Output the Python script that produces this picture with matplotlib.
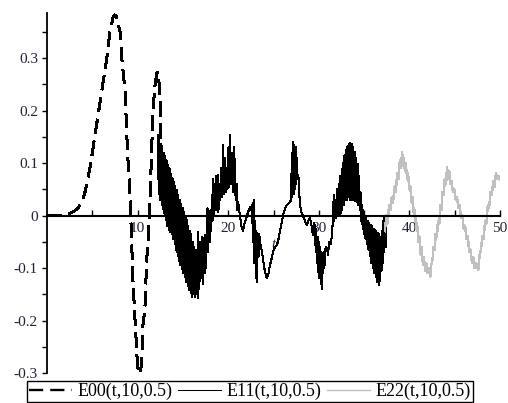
"""
Recreation of a Maple-style plot of three signals E00, E11, E22 over t in [0, 50].
"""

import matplotlib
matplotlib.use("Agg")
import matplotlib.pyplot as plt
from matplotlib.ticker import FixedLocator, FixedFormatter

# ---------------------------------------------------------------------------
# Data
# ---------------------------------------------------------------------------
e00_t = [0.0, 1.0, 1.8, 2.5, 3.0, 3.5, 3.9, 4.2, 4.5, 4.8, 5.0, 5.5, 6.07, 6.6,
         6.95, 7.3, 7.5, 7.7, 8.06, 8.24, 8.61, 8.80, 8.97, 9.16, 9.3, 9.5,
         9.7, 10.0, 10.15, 10.27, 10.45, 10.6, 10.8, 11.0, 11.15, 11.37,
         11.55, 11.7, 11.9, 12.1, 12.2, 12.35, 12.47, 12.55, 12.65, 12.85, 13.2]
e00_v = [0.0, 0.0, 0.001, 0.004, 0.008, 0.016, 0.027, 0.045, 0.07, 0.097, 0.119,
         0.176, 0.24, 0.30, 0.35, 0.378, 0.382, 0.378, 0.35, 0.302, 0.239, 0.157,
         0.093, 0.039, -0.03, -0.129, -0.193, -0.289, -0.298, -0.302, -0.28,
         -0.205, -0.18, -0.085, -0.052, 0.03, 0.125, 0.20, 0.245, 0.27, 0.273,
         0.258, 0.22, 0.163, 0.10, 0.04, 0.01]

e11_t = [
    # dense band 12.3 - 16
    12.25, 12.33, 12.41, 12.49, 12.57, 12.65, 12.73, 12.81, 12.89, 12.97,
    13.05, 13.13, 13.21, 13.29, 13.37, 13.45, 13.53, 13.61, 13.69, 13.77,
    13.85, 13.93, 14.01, 14.09, 14.17, 14.25, 14.33, 14.41, 14.49, 14.57,
    14.65, 14.73, 14.81, 14.89, 14.97, 15.05, 15.13, 15.21, 15.29, 15.37,
    15.45, 15.53, 15.61, 15.69, 15.77, 15.85, 15.93, 16.0,
    # spikes 16 - 21
    16.08, 16.16, 16.24, 16.32, 16.40, 16.48, 16.56, 16.62, 16.67, 16.76,
    16.84, 16.92, 17.0, 17.08, 17.16, 17.24, 17.32, 17.40, 17.48, 17.56,
    17.64, 17.72, 17.80, 17.88, 17.96, 18.04, 18.12, 18.20, 18.28, 18.36,
    18.44, 18.52, 18.60, 18.68, 18.76, 18.84, 18.92, 19.0, 19.1, 19.2,
    19.3, 19.43, 19.52, 19.62, 19.72, 19.82, 19.92, 20.02, 20.1, 20.2,
    20.3, 20.42, 20.52, 20.62, 20.72, 20.82, 20.92, 21.0, 21.1,
    # smoother part 21 - 29
    21.3, 21.45, 21.63, 21.8, 22.08, 22.3, 22.41, 22.55, 22.65, 22.72,
    22.8, 22.88, 22.96, 23.04, 23.12, 23.18, 23.26, 23.34, 23.42, 23.51,
    23.73, 24.06, 24.28, 24.45, 24.61, 24.75, 24.94, 25.15, 25.39, 25.55,
    25.72, 26.05, 26.3, 26.49, 26.82, 26.95, 27.02, 27.08, 27.15, 27.22,
    27.3, 27.38, 27.45, 27.52, 27.59, 27.66, 27.74, 27.92, 28.1, 28.26,
    28.5, 28.7, 28.85, 29.03, 29.2,
    # spikes 29 - 32
    29.36, 29.48, 29.58, 29.66, 29.72, 29.8, 29.86, 29.91, 29.98, 30.06,
    30.14, 30.22, 30.3, 30.35, 30.42, 30.5, 30.58, 30.66, 30.75, 30.91,
    31.02, 31.15, 31.3, 31.46, 31.57, 31.65, 31.72, 31.8, 31.9, 32.0, 32.1,
    # hump 32.2 - 34.7
    32.2, 32.28, 32.36, 32.44, 32.52, 32.6, 32.68, 32.76, 32.84, 32.92,
    33.0, 33.08, 33.16, 33.24, 33.32, 33.4, 33.48, 33.56, 33.64, 33.72,
    33.8, 33.88, 33.96, 34.04, 34.12, 34.2, 34.28, 34.36, 34.44, 34.52,
    34.6, 34.68,
    # band 34.7 - 37.5
    34.76, 34.84, 34.92, 35.0, 35.08, 35.16, 35.24, 35.32, 35.4, 35.48,
    35.56, 35.64, 35.72, 35.8, 35.88, 35.96, 36.04, 36.12, 36.2, 36.28,
    36.36, 36.44, 36.52, 36.6, 36.68, 36.76, 36.84, 36.92, 37.0, 37.09,
    37.15, 37.22, 37.3, 37.38, 37.45,
]
e11_v = [
    0.153, 0.040, 0.145, 0.030, 0.137, 0.020, 0.128, 0.012, 0.120, 0.003,
    0.113, -0.008, 0.105, -0.020, 0.097, -0.028, 0.090, -0.032, 0.080, -0.036,
    0.072, -0.045, 0.064, -0.055, 0.056, -0.065, 0.048, -0.077, 0.040, -0.087,
    0.030, -0.095, 0.022, -0.102, 0.015, -0.110, 0.006, -0.118, -0.002, -0.126,
    -0.008, -0.134, -0.020, -0.142, -0.030, -0.148, -0.035, -0.155,
    -0.05, -0.15, -0.06, -0.155, -0.065, -0.15, -0.07, -0.158, -0.032, -0.14,
    -0.05, -0.125, -0.06, -0.12, -0.04, -0.13, -0.045, -0.11, -0.037, -0.10,
    -0.03, 0.014, -0.07, 0.0, -0.05, 0.01, -0.03, 0.04, -0.01, 0.07,
    0.0, 0.06, 0.01, 0.075, 0.02, 0.077, 0.007, 0.06, 0.03, 0.09,
    0.035, 0.134, 0.04, 0.11, 0.045, 0.09, 0.05, 0.13, 0.055, 0.153,
    0.06, 0.12, 0.045, 0.13, 0.10, 0.03, 0.06, 0.01, 0.025,
    0.0, -0.02, -0.03, -0.015, 0.0, 0.012, 0.016, 0.01, 0.02, -0.05,
    0.03, -0.09, -0.01, -0.12, -0.03, -0.127, -0.04, -0.08, -0.035, -0.05,
    -0.07, -0.108, -0.12, -0.11, -0.094, -0.085, -0.07, -0.06, -0.056, -0.045,
    -0.03, 0.0, 0.015, 0.02, 0.026, 0.03, 0.12, 0.035, 0.14, 0.04,
    0.135, 0.05, 0.13, 0.06, 0.11, 0.07, 0.077, 0.02, 0.005, 0.0,
    -0.012, -0.018, -0.01, -0.005, -0.02,
    -0.037, -0.015, -0.02, -0.07, -0.025, -0.09, -0.04, -0.108, -0.05, -0.12,
    -0.06, -0.13, -0.07, -0.14, -0.08, -0.11, -0.07, -0.095, -0.06, -0.062,
    -0.075, -0.05, -0.055, -0.037, 0.0, 0.04, -0.01, 0.03, -0.005, 0.05, 0.0,
    0.06, 0.0, 0.075, 0.005, 0.088, 0.01, 0.10, 0.02, 0.115, 0.03,
    0.125, 0.03, 0.132, 0.035, 0.136, 0.03, 0.138, 0.03, 0.137, 0.03,
    0.13, 0.03, 0.122, 0.028, 0.11, 0.025, 0.098, 0.02, 0.075, 0.01,
    0.045, -0.01,
    0.02, -0.025, 0.01, -0.035, 0.0, -0.045, -0.005, -0.055, -0.01, -0.065,
    -0.015, -0.078, -0.018, -0.09, -0.02, -0.10, -0.025, -0.11, -0.028, -0.118,
    -0.03, -0.126, -0.033, -0.132, -0.035, -0.125, -0.04, -0.105, -0.03, -0.09,
    0.0, -0.07, -0.005, -0.06, 0.0,
]

e22_t = [37.3, 37.45, 37.6, 37.75, 37.9, 38.05, 38.2, 38.35, 38.5, 38.65,
         38.8, 38.95, 39.05, 39.2, 39.3, 39.4, 39.5, 39.6, 39.75, 39.85,
         40.0, 40.1, 40.25, 40.35, 40.5, 40.6, 40.75, 40.85, 41.0, 41.1,
         41.25, 41.35, 41.5, 41.6, 41.75, 41.85, 42.0, 42.15, 42.3, 42.4,
         42.55, 42.65, 42.8, 42.9, 43.05, 43.15, 43.3, 43.4, 43.55, 43.65,
         43.8, 43.9, 44.05, 44.15, 44.3, 44.4, 44.55, 44.65, 44.8, 44.95,
         45.1, 45.25, 45.4, 45.55, 45.7, 45.85, 46.0, 46.15, 46.3, 46.45,
         46.6, 46.75, 46.9, 47.05, 47.2, 47.35, 47.6, 47.75, 47.9, 48.05,
         48.2, 48.35, 48.5, 48.65, 48.8, 48.95, 49.1, 49.25, 49.4, 49.55,
         49.7, 49.85, 50.0]
e22_v = [-0.03, 0.0, -0.015, 0.02, 0.01, 0.035, 0.025, 0.055, 0.045, 0.08,
         0.07, 0.105, 0.09, 0.12, 0.095, 0.11, 0.085, 0.10, 0.07, 0.08,
         0.05, 0.055, 0.025, 0.035, 0.0, 0.01, -0.025, -0.015, -0.05, -0.04,
         -0.075, -0.06, -0.095, -0.08, -0.105, -0.09, -0.11, -0.10, -0.117, -0.095,
         -0.085, -0.06, -0.065, -0.035, -0.04, -0.01, -0.015, 0.02, 0.01, 0.045,
         0.04, 0.07, 0.06, 0.092, 0.07, 0.085, 0.06, 0.065, 0.045, 0.05,
         0.03, 0.035, 0.015, 0.02, -0.005, 0.0, -0.025, -0.02, -0.045, -0.04,
         -0.07, -0.065, -0.09, -0.08, -0.10, -0.09, -0.104, -0.075, -0.065, -0.04,
         -0.045, -0.01, -0.015, 0.02, 0.015, 0.045, 0.04, 0.065, 0.055, 0.08,
         0.07, 0.075, 0.068]

x_major = [10, 20, 30, 40, 50]
x_minor = [5, 15, 25, 35, 45]
y_major = [-0.3, -0.2, -0.1, 0.0, 0.1, 0.2, 0.3]
y_labels = ["-0.3", "-0.2", "-0.1", "0", "0.1", "0.2", "0.3"]
y_minor = [-0.25, -0.15, -0.05, 0.05, 0.15, 0.25, 0.35]
series_names = ["E00(t,10,0.5)", "E11(t,10,0.5)", "E22(t,10,0.5)"]

# ---------------------------------------------------------------------------
# Plot
# ---------------------------------------------------------------------------
plt.rcParams["font.family"] = ["Liberation Serif", "DejaVu Serif"]
plt.rcParams["axes.unicode_minus"] = False
LABEL_COLOR = "#20203a"

fig = plt.figure(figsize=(5.08, 4.03), dpi=100)
ax = fig.add_axes([47 / 508, 30 / 403, 453 / 508, 359.6 / 403])

# Maple output is not antialiased, so the dense oscillations look solid black
ax.plot(e00_t, e00_v, color="black", lw=1.7, ls=(0, (6, 3)),
        antialiased=False, label=series_names[0])
ax.plot(e11_t, e11_v, color="black", lw=0.75, antialiased=False,
        label=series_names[1])
ax.plot(e22_t, e22_v, color="#c0c0c0", lw=1.0, antialiased=False,
        label=series_names[2])

ax.set_xlim(0, 50)
ax.set_ylim(-0.3, 0.385)
ax.set_axisbelow(True)

ax.spines["top"].set_visible(False)
ax.spines["right"].set_visible(False)
ax.spines["bottom"].set_position(("data", 0))
ax.spines["bottom"].set_linewidth(1.5)
ax.spines["left"].set_linewidth(1.3)

ax.xaxis.set_major_locator(FixedLocator(x_major))
ax.xaxis.set_minor_locator(FixedLocator(x_minor))
ax.yaxis.set_major_locator(FixedLocator(y_major))
ax.yaxis.set_major_formatter(FixedFormatter(y_labels))
ax.yaxis.set_minor_locator(FixedLocator(y_minor))

ax.tick_params(axis="x", which="both", direction="in", length=4, width=1,
               pad=5, labelsize=11, labelcolor=LABEL_COLOR)
ax.tick_params(axis="y", which="both", direction="out", length=3.5, width=1,
               pad=3, labelsize=11, labelcolor=LABEL_COLOR)

ax.set_xlabel("t", fontstyle="italic", fontsize=11, color=LABEL_COLOR, labelpad=2)

leg = ax.legend(loc="lower left", bbox_to_anchor=(27 / 508, 1 / 403),
                bbox_transform=fig.transFigure, ncol=3, fontsize=13,
                frameon=True, fancybox=False, framealpha=1, edgecolor="black",
                borderpad=0.1, borderaxespad=0, handlelength=2.4,
                handletextpad=0.3, columnspacing=0.3)
leg.get_frame().set_linewidth(1.0)

fig.savefig("out.png", dpi=100)
